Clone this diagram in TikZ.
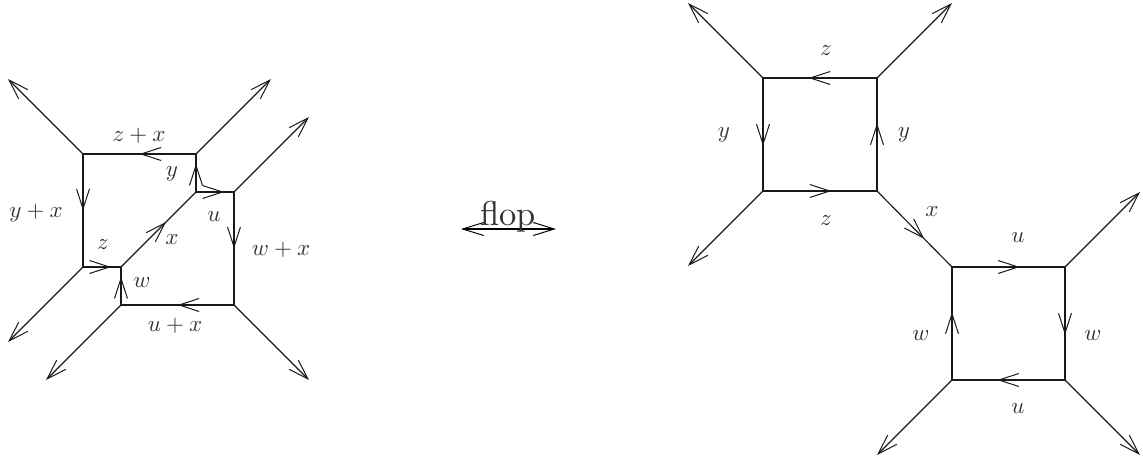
\documentclass[tikz,border=0pt]{standalone}
\usetikzlibrary{arrows.meta,decorations.markings}
\tikzset{
  x=1pt,y=-1pt,
  edge/.style={line width=1.15pt,draw=black!90},
  barb/.tip={Straight Barb[length=20pt,width=13pt,line width=1pt]},
  ray/.style={edge,-{barb}},
  tipat/.style={edge,postaction={decorate},decoration={markings,mark=at position #1 with {\arrow{barb}}}},
  lab/.style={anchor=base,inner sep=0pt,outer sep=0pt,text=black!80,scale=2.3},
}
\begin{document}
\begin{tikzpicture}
\useasboundingbox (0,0) rectangle (1143,462);
% left web vertices
\coordinate (A) at (83,154);
\coordinate (B) at (196,154);
\coordinate (C) at (196,192);
\coordinate (D) at (234,192);
\coordinate (E) at (234,305);
\coordinate (F) at (121,305);
\coordinate (G) at (121,267);
\coordinate (H) at (83,267);
\coordinate (a1) at (8,79);
\coordinate (b1) at (271,79);
\coordinate (d1) at (309,117);
\coordinate (e1) at (309,380);
\coordinate (f1) at (46,380);
\coordinate (h1) at (8,342);
\draw[tipat=0.5] (B) -- (A);
\draw[tipat=0.5] (A) -- (H);
\draw[tipat=0.74] (H) -- (G);
\draw[tipat=0.74] (F) -- (G);
\draw[tipat=0.6] (G) -- (C);
\draw[tipat=0.74] (C) -- (B);
\draw[tipat=0.74] (C) -- (D);
\draw[tipat=0.5] (D) -- (E);
\draw[tipat=0.5] (E) -- (F);
\draw[ray] (A) -- (a1);
\draw[ray] (B) -- (b1);
\draw[ray] (D) -- (d1);
\draw[ray] (E) -- (e1);
\draw[ray] (F) -- (f1);
\draw[ray] (H) -- (h1);
% right web vertices
\coordinate (P) at (763,78);
\coordinate (Q) at (877,78);
\coordinate (R) at (877,191);
\coordinate (S) at (763,191);
\coordinate (T) at (952,267);
\coordinate (U) at (1065,267);
\coordinate (V) at (1065,380);
\coordinate (W) at (952,380);
\coordinate (p1) at (688,3);
\coordinate (q1) at (952,3);
\coordinate (s1) at (688,266);
\coordinate (u1) at (1140,192);
\coordinate (v1) at (1140,455);
\coordinate (w1) at (877,455);
\draw[tipat=0.6] (Q) -- (P);
\draw[tipat=0.6] (P) -- (S);
\draw[tipat=0.6] (S) -- (R);
\draw[tipat=0.6] (R) -- (Q);
\draw[tipat=0.63] (R) -- (T);
\draw[tipat=0.6] (T) -- (U);
\draw[tipat=0.6] (U) -- (V);
\draw[tipat=0.6] (V) -- (W);
\draw[tipat=0.6] (W) -- (T);
\draw[ray] (P) -- (p1);
\draw[ray] (Q) -- (q1);
\draw[ray] (S) -- (s1);
\draw[ray] (U) -- (u1);
\draw[ray] (V) -- (v1);
\draw[ray] (W) -- (w1);
% flop arrow
\coordinate (fl) at (461,229);
\coordinate (fr) at (556,229);
\draw[line width=2.2pt,{Straight Barb[length=21pt,width=13pt,line width=1pt]}-{Straight Barb[length=21pt,width=13pt,line width=1pt]}] (fl) -- (fr);
\node[lab,scale=1.5] (flop) at (508,226) {flop};
% left labels
\node[lab] (l1) at (139,142) {$z+x$};
\node[lab] (l2) at (172,177) {$y$};
\node[lab] (l3) at (36,218) {$y+x$};
\node[lab] (l4) at (103,250) {$z$};
\node[lab] (l5) at (172,245) {$x$};
\node[lab] (l6) at (214,222) {$u$};
\node[lab] (l7) at (281,256) {$w+x$};
\node[lab] (l8) at (142,288) {$w$};
\node[lab] (l9) at (175,331) {$u+x$};
% right labels
\node[lab] (r1) at (826,56) {$z$};
\node[lab] (r2) at (724,138) {$y$};
\node[lab] (r3) at (904,138) {$y$};
\node[lab] (r4) at (826,226) {$z$};
\node[lab] (r5) at (932,217) {$x$};
\node[lab] (r6) at (1018,243) {$u$};
\node[lab] (r7) at (1093,340) {$w$};
\node[lab] (r8) at (921,340) {$w$};
\node[lab] (r9) at (1018,413) {$u$};
\end{tikzpicture}
\end{document}
